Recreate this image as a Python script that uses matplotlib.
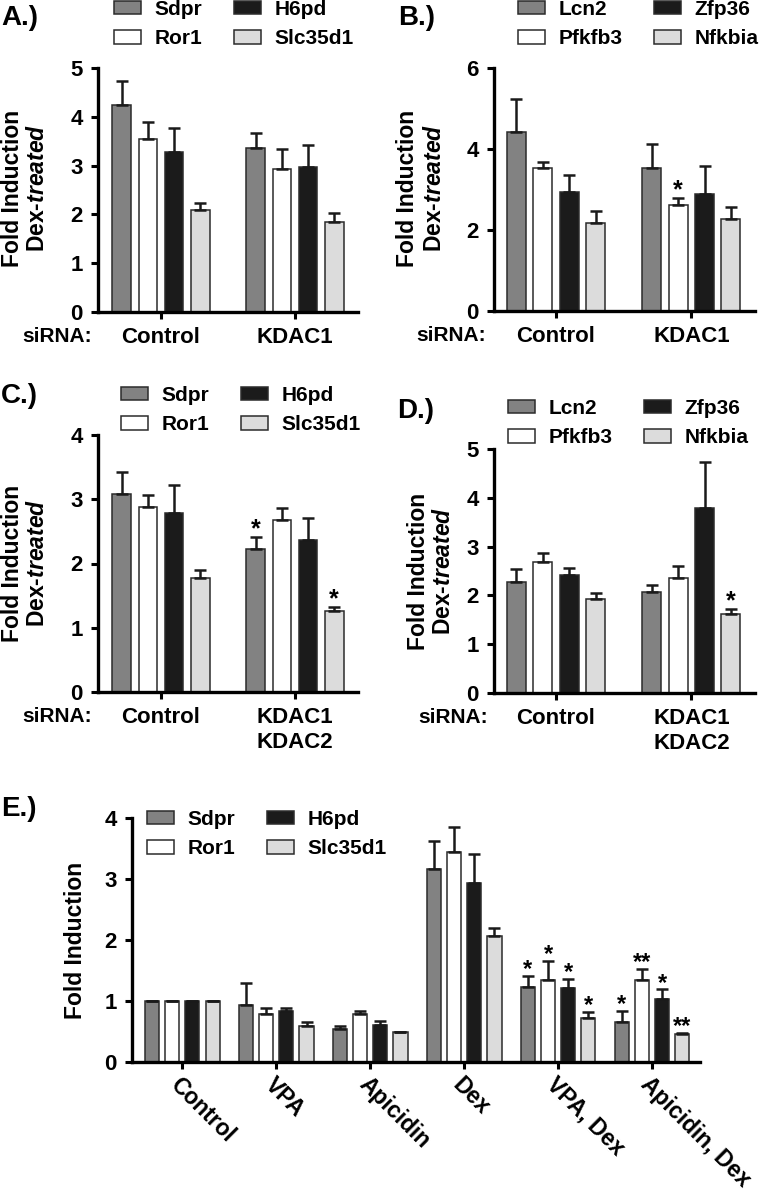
import numpy as np
import matplotlib
matplotlib.use('Agg')
import matplotlib.pyplot as plt
from matplotlib.patches import Patch

plt.rcParams['font.family'] = ['Liberation Sans', 'DejaVu Sans']
plt.rcParams['font.weight'] = 'bold'
plt.rcParams['mathtext.fontset'] = 'custom'
plt.rcParams['mathtext.bfit'] = 'Liberation Sans:italic:bold'
plt.rcParams['mathtext.rm'] = 'Liberation Sans:bold'

# ---- data ----
genes_1 = ['Sdpr', 'Ror1', 'H6pd', 'Slc35d1']
genes_2 = ['Lcn2', 'Pfkfb3', 'Zfp36', 'Nfkbia']
colours = ['#828282', '#ffffff', '#1b1b1b', '#dcdcdc']

# rows = genes, columns = groups
a_groups = ['Control', 'KDAC1']
a_mean = [[4.25, 3.36], [3.55, 2.94], [3.27, 2.98], [2.10, 1.85]]
a_sem = [[0.48, 0.30], [0.34, 0.40], [0.51, 0.45], [0.14, 0.18]]
a_star = [['', ''], ['', ''], ['', ''], ['', '']]

b_groups = ['Control', 'KDAC1']
b_mean = [[4.43, 3.54], [3.52, 2.62], [2.95, 2.88], [2.18, 2.28]]
b_sem = [[0.80, 0.59], [0.17, 0.17], [0.42, 0.70], [0.30, 0.30]]
b_star = [['', ''], ['', '*'], ['', ''], ['', '']]

c_groups = ['Control', 'KDAC1\nKDAC2']
c_mean = [[3.08, 2.23], [2.88, 2.67], [2.78, 2.36], [1.77, 1.26]]
c_sem = [[0.34, 0.18], [0.18, 0.19], [0.44, 0.35], [0.13, 0.06]]
c_star = [['', '*'], ['', ''], ['', ''], ['', '*']]

d_groups = ['Control', 'KDAC1\nKDAC2']
d_mean = [[2.28, 2.07], [2.69, 2.35], [2.41, 3.79], [1.93, 1.62]]
d_sem = [[0.26, 0.15], [0.17, 0.25], [0.16, 0.95], [0.11, 0.10]]
d_star = [['', ''], ['', ''], ['', ''], ['', '*']]

e_groups = ['Control', 'VPA', 'Apicidin', 'Dex', 'VPA, Dex', 'Apicidin, Dex']
e_mean = [[1.0, 0.93, 0.54, 3.16, 1.23, 0.66],
          [1.0, 0.78, 0.78, 3.45, 1.35, 1.35],
          [1.0, 0.83, 0.60, 2.94, 1.21, 1.04],
          [1.0, 0.59, 0.49, 2.07, 0.72, 0.455]]
e_sem = [[0, 0.36, 0.05, 0.46, 0.18, 0.18],
         [0, 0.10, 0.05, 0.41, 0.31, 0.18],
         [0, 0.06, 0.07, 0.47, 0.15, 0.15],
         [0, 0.07, 0.0, 0.12, 0.10, 0.025]]
e_star = [['', '', '', '', '*', '*'],
          ['', '', '', '', '*', '**'],
          ['', '', '', '', '*', '*'],
          ['', '', '', '', '*', '**']]

W, H = 760, 1196
fig = plt.figure(figsize=(W / 100, H / 100), dpi=100)
FS = 15


def px_axes(left, right, top, bottom):
    return fig.add_axes([left / W, 1 - bottom / H, (right - left) / W, (bottom - top) / H])


def draw_panel(ax, means, sems, stars, spacing, width, star_off, star_size):
    n = len(means[0])
    x = np.arange(n)
    for i in range(len(means)):
        xi = x + (i - 1.5) * spacing
        m = np.array(means[i])
        e = np.array(sems[i])
        ax.errorbar(xi, m, yerr=[np.zeros(n), e], fmt='none', ecolor='#1a1a1a',
                    elinewidth=1.8, capsize=4, capthick=1.8, zorder=3)
        ax.bar(xi, m, width, color=colours[i], edgecolor='#2b2b2b', linewidth=1.1, zorder=2)
        for j, s in enumerate(stars[i]):
            if s:
                ax.annotate(s, (xi[j], m[j] + e[j]), xytext=(0, star_off),
                            textcoords='offset points', ha='center', va='center',
                            fontsize=star_size)
    for side in ['top', 'right']:
        ax.spines[side].set_visible(False)
    for side in ['left', 'bottom']:
        ax.spines[side].set_linewidth(2.4)
    ax.tick_params(axis='both', direction='out', length=5, width=2.2, labelsize=FS + 1)
    ax.tick_params(axis='y', pad=6)
    ax.set_xticks(x)


def add_legend(names, x_px, y_px):
    handles = [Patch(facecolor=c, edgecolor='#2b2b2b', linewidth=1.1) for c in colours]
    fig.legend(handles, names, loc='upper left', bbox_to_anchor=(x_px / W, 1 - y_px / H),
               ncol=2, frameon=False, fontsize=FS, handlelength=1.3, handleheight=0.62,
               handletextpad=0.65, columnspacing=1.5, labelspacing=0.5,
               borderpad=0, borderaxespad=0)


def add_ylabel(x1, x2, y, two_lines=True):
    fig.text(x1 / W, 1 - y / H, 'Fold Induction', rotation=90, ha='center', va='center',
             fontsize=FS + 1.5)
    if two_lines:
        fig.text(x2 / W, 1 - y / H, r'Dex-$\mathbfit{treated}$', rotation=90, ha='center',
                 va='center', fontsize=FS + 1.5)


def sirna(ax, left_px, axis_left_px):
    ax.annotate('siRNA:', (0, 0), xycoords='axes fraction',
                xytext=((left_px - axis_left_px) * 0.72, -11), textcoords='offset points',
                ha='left', va='top', fontsize=FS)


# ---- panel A ----
axA = px_axes(98, 358, 68, 312)
draw_panel(axA, a_mean, a_sem, a_star, 0.195, 0.14, 5.8, 18)
axA.set_xlim(-0.47, 1.47)
axA.set_ylim(0, 5)
axA.set_yticks([0, 1, 2, 3, 4, 5])
axA.set_xticklabels(a_groups)
axA.tick_params(axis='x', pad=6)
sirna(axA, 22, 98)
add_legend(genes_1, 114, 0)
add_ylabel(13, 37, 188)
fig.text(1 / W, 1 - 5 / H, 'A.)', ha='left', va='top', fontsize=20)

# ---- panel B ----
axB = px_axes(494, 755, 68, 311)
draw_panel(axB, b_mean, b_sem, b_star, 0.195, 0.14, 5.8, 18)
axB.set_xlim(-0.457, 1.47)
axB.set_ylim(0, 6)
axB.set_yticks([0, 2, 4, 6])
axB.set_xticklabels(b_groups)
axB.tick_params(axis='x', pad=6)
sirna(axB, 416, 494)
add_legend(genes_2, 518, 0)
add_ylabel(408, 435, 188)
fig.text(398 / W, 1 - 5 / H, 'B.)', ha='left', va='top', fontsize=20)

# ---- panel C ----
axC = px_axes(98, 358, 435, 692)
draw_panel(axC, c_mean, c_sem, c_star, 0.195, 0.14, 5.8, 18)
axC.set_xlim(-0.47, 1.47)
axC.set_ylim(0, 4)
axC.set_yticks([0, 1, 2, 3, 4])
axC.set_xticklabels(c_groups, linespacing=1.25)
axC.tick_params(axis='x', pad=6)
sirna(axC, 22, 98)
add_legend(genes_1, 121, 386)
add_ylabel(13, 37, 563)
fig.text(1 / W, 1 - 383 / H, 'C.)', ha='left', va='top', fontsize=20)

# ---- panel D ----
axD = px_axes(494, 755, 449, 693)
draw_panel(axD, d_mean, d_sem, d_star, 0.195, 0.14, 5.8, 18)
axD.set_xlim(-0.457, 1.47)
axD.set_ylim(0, 5)
axD.set_yticks([0, 1, 2, 3, 4, 5])
axD.set_xticklabels(d_groups, linespacing=1.25)
axD.tick_params(axis='x', pad=6)
sirna(axD, 418, 494)
add_legend(genes_2, 508, 399)
add_ylabel(418, 443, 571)
fig.text(397 / W, 1 - 398 / H, 'D.)', ha='left', va='top', fontsize=20)

# ---- panel E ----
axE = px_axes(132, 700, 818, 1062)
draw_panel(axE, e_mean, e_sem, e_star, 0.215, 0.15, 4.5, 17)
axE.set_xlim(-0.535, 5.51)
axE.set_ylim(0, 4)
axE.set_yticks([0, 1, 2, 3, 4])
axE.set_xticklabels(e_groups, rotation=-45, ha='left', va='top', rotation_mode='anchor',
                    fontsize=FS + 1.5)
axE.tick_params(axis='x', pad=3)
add_legend(genes_1, 147, 810)
add_ylabel(75, 0, 940, two_lines=False)
fig.text(1 / W, 1 - 796 / H, 'E.)', ha='left', va='top', fontsize=20)

fig.savefig('out.png', dpi=100)
